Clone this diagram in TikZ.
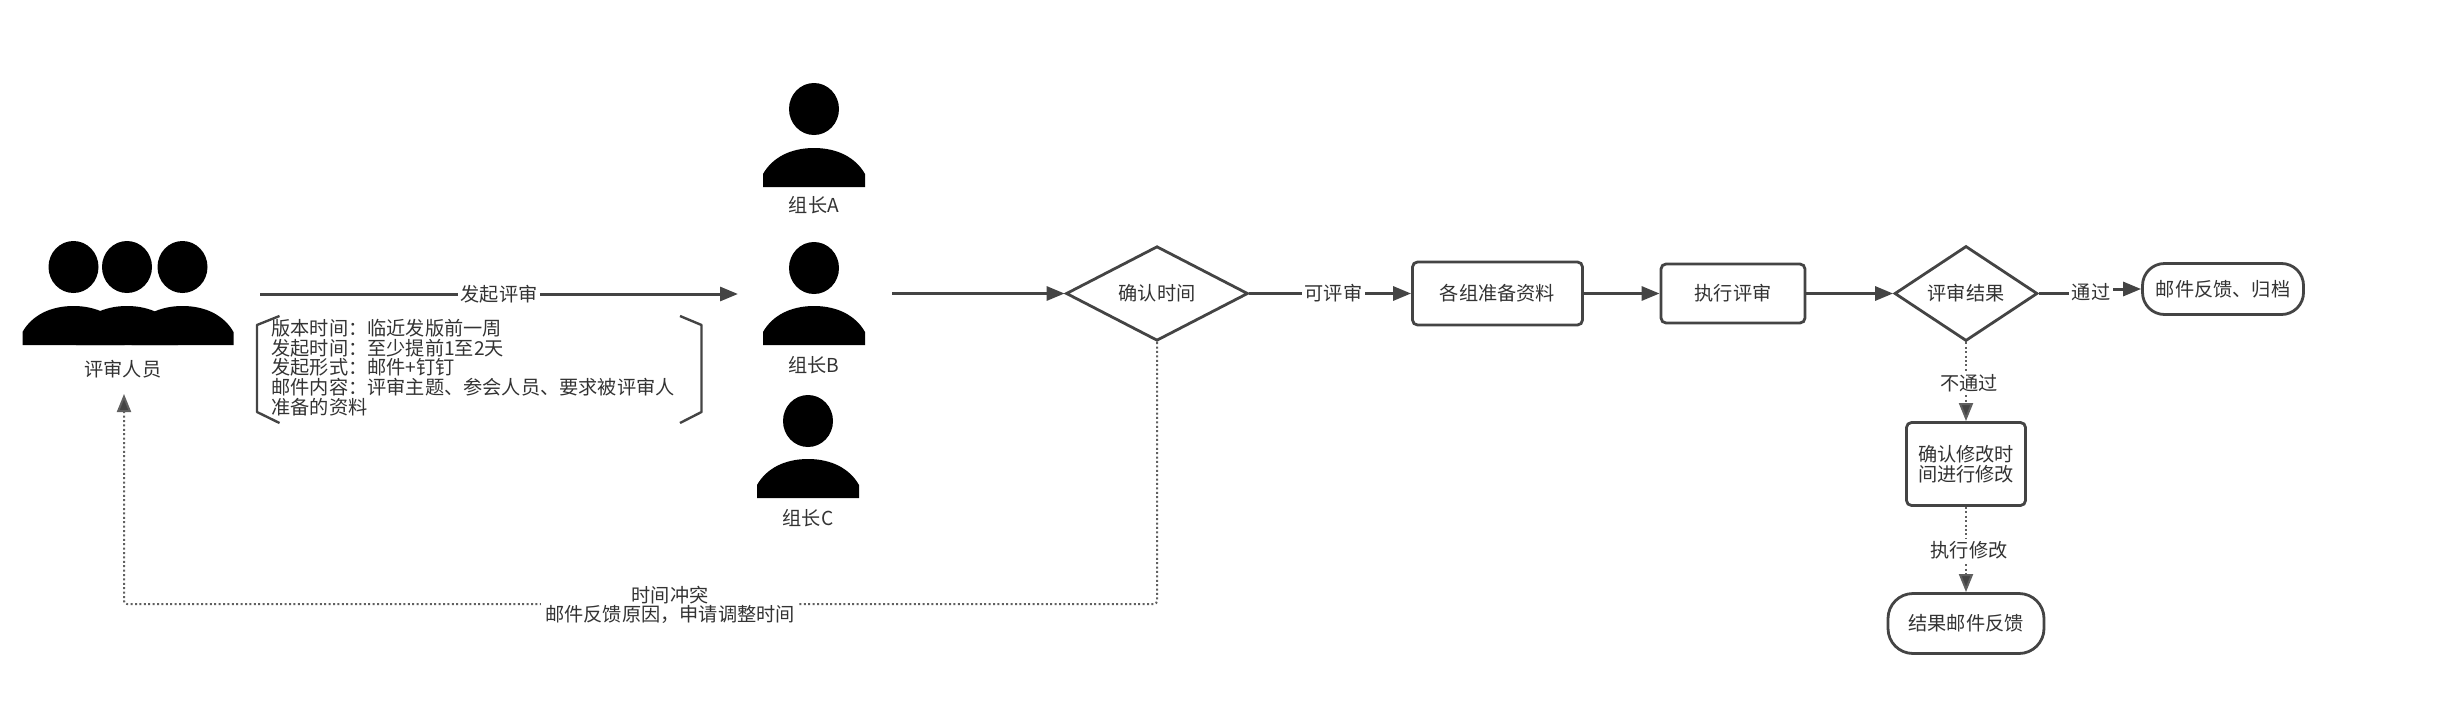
\documentclass[tikz,border=0pt]{standalone}
\usepackage{fontspec}
\setmainfont{Noto Sans CJK SC}
\usetikzlibrary{arrows.meta,shapes.geometric}
\definecolor{ln}{HTML}{444444}
\definecolor{tx}{HTML}{333333}
\lineskiplimit=-20pt
\newcommand\personfig[3]{% cx, head cy, body bottom
  \fill[black] (#1,#2) ellipse [x radius=12.5pt,y radius=13pt];
  \fill[black] (#1-51,#3) -- (#1-51,#3-13) .. controls (#1-42,#3-29) and (#1-24,#3-39) .. (#1,#3-39)
     .. controls (#1+24,#3-39) and (#1+42,#3-29) .. (#1+51,#3-13) -- (#1+51,#3) -- cycle;
}
\tikzset{
  x=0.5pt,y=-0.5pt,
  txt/.style={text=tx,font=\fontsize{9.6}{9.8}\selectfont,inner sep=0pt,align=center},
  lbl/.style={txt,fill=white,inner sep=1.5pt},
  decision/.style={txt,diamond,draw=ln,line width=1.4pt,fill=white},
  procbox/.style={txt,rectangle,draw=ln,line width=1.4pt,rounded corners=2.5pt,fill=white},
  pill/.style={txt,rectangle,draw=ln,line width=1.4pt,fill=white},
  flow/.style={draw=ln,line width=1.5pt,-{Triangle[length=9pt,width=7pt]},shorten >=0pt},
  dotflow/.style={draw=ln!85,line width=1pt,dash pattern=on 1pt off 1.2pt,-{Triangle[length=9pt,width=7pt,fill=ln]}},
  brk/.style={draw=ln,line width=1.2pt,line join=round},
}
\begin{document}
\begin{tikzpicture}
\useasboundingbox (0,0) rectangle (2458,718);
% people
\personfig{73.5}{267}{345}
\personfig{182.5}{267}{345}
\personfig{127}{267}{345}
\personfig{814}{109}{187}
\personfig{814}{268}{345}
\personfig{808}{421}{498}
\node[txt] (revlabel) at (123,369) {评审人员};
\node[txt] (la) at (814,205) {组长A};
\node[txt] (lb) at (814,365) {组长B};
\node[txt] (lc) at (808,518) {组长C};
% free ends
\coordinate (sendstart) at (260,294);
\coordinate (sendend) at (738,294);
\coordinate (bout) at (892,293.5);
\coordinate (revin) at (124,394);
\coordinate (c1) at (1157,604);
\coordinate (c2) at (124,604);
% shapes
\node[decision,minimum width=91pt,minimum height=45pt] (d1) at (1157,293.5) {确认时间};
\node[procbox,minimum width=85pt,minimum height=31.5pt] (prep) at (1497.5,293.5) {各组准备资料};
\node[procbox,minimum width=72pt,minimum height=29.5pt] (exec) at (1733,293.5) {执行评审};
\node[decision,minimum width=71.5pt,minimum height=47.5pt] (d2) at (1966,293.5) {评审结果};
\node[pill,rounded corners=11pt,minimum width=80.5pt,minimum height=25.5pt] (done) at (2223,289) {邮件反馈、归档};
\node[procbox,minimum width=59.5pt,minimum height=41.5pt,text width=50pt] (fix) at (1966,464) {确认修改时\\间进行修改};
\node[pill,rounded corners=12.5pt,minimum width=78pt,minimum height=30pt] (fb) at (1966,623.5) {结果邮件反馈};
% connectors
\draw[flow] (sendstart) -- node[lbl] (l1) {发起评审} (sendend);
\draw[flow] (bout) -- (d1.west);
\draw[flow] (d1.east) -- node[lbl,pos=.52] (l2) {可评审} (prep.west);
\draw[flow] (prep.east) -- (exec.west);
\draw[flow] (exec.east) -- (d2.west);
\coordinate (s1) at (2091,293.5);
\coordinate (s2) at (2091,289);
\draw[flow] (d2.east) -- (s1) -- (s2) -- (done.west);
\node[lbl] (l3) at (2091,292) {通过};
\draw[dotflow] (d2.south) -- node[lbl,xshift=1.5pt,yshift=-0.6pt] (l4) {不通过} (fix.north);
\draw[dotflow] (fix.south) -- node[lbl,xshift=1.5pt,yshift=-0.6pt] (l5) {执行修改} (fb.north);
\draw[dotflow,rounded corners=1.5pt] (d1.south) -- (c1) -- (c2) -- (revin);
\node[lbl,inner xsep=2pt,inner ysep=0pt] (l6) at (670,605) {时间冲突\\邮件反馈原因，申请调整时间};
% note
\node[txt,anchor=north west,align=left] (note) at (271,319) {版本时间：临近发版前一周\\发起时间：至少提前1至2天\\发起形式：邮件+钉钉\\邮件内容：评审主题、参会人员、要求被评审人\\准备的资料};
\draw[brk] (279.5,316) -- (257,325) -- (257,412) -- (279.5,423);
\draw[brk] (680,316) -- (701.5,325) -- (701.5,412) -- (680,423);
\end{tikzpicture}
\end{document}
